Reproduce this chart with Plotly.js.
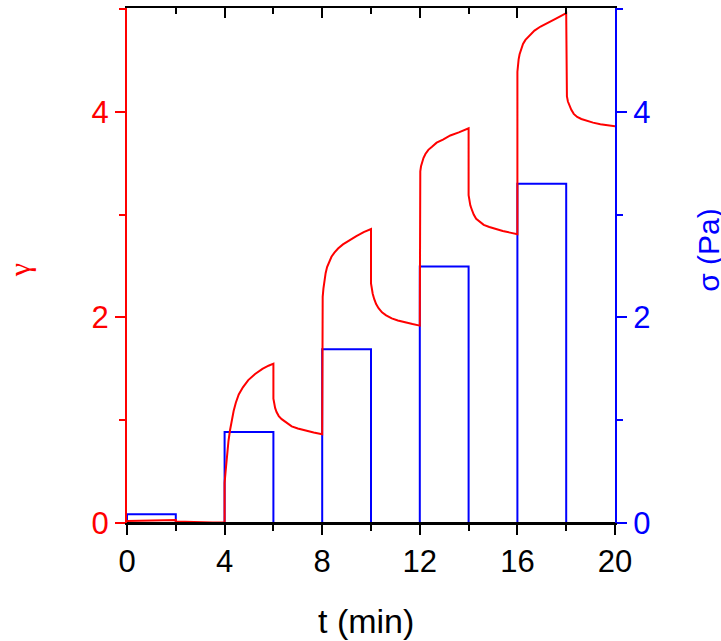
<!DOCTYPE html>
<html>
<head>
<meta charset="utf-8">
<script src="https://cdn.plot.ly/plotly-3.0.1.min.js"></script>
<style>html,body{margin:0;padding:0;background:#fff;}#chart{width:721px;height:641px;}</style>
</head>
<body>
<div id="chart"></div>
<script>
// Strain (gamma) curve
var strainT = [0, 0, 0.5, 1, 1.5, 2, 2, 2.5, 3, 3.5, 4,
  4, 4.04, 4.08, 4.12, 4.16, 4.22, 4.29, 4.37, 4.46, 4.58, 4.75, 4.97, 5.25, 5.55, 5.8, 6,
  6, 6.03, 6.07, 6.13, 6.22, 6.34, 6.5, 6.75, 7.0, 7.3, 7.65, 8,
  8, 8.02, 8.05, 8.09, 8.14, 8.2, 8.28, 8.38, 8.5, 8.65, 8.85, 9.1, 9.4, 9.7, 10,
  10, 10.03, 10.07, 10.13, 10.21, 10.31, 10.45, 10.62, 10.85, 11.1, 11.4, 11.7, 12,
  12, 12.02, 12.05, 12.09, 12.15, 12.23, 12.35, 12.5, 12.69, 12.95, 13.25, 13.6, 14,
  14, 14.03, 14.07, 14.13, 14.21, 14.31, 14.45, 14.62, 14.85, 15.1, 15.4, 15.7, 16,
  16, 16.02, 16.05, 16.09, 16.15, 16.23, 16.33, 16.48, 16.7, 16.95, 17.25, 17.6, 18,
  18, 18.03, 18.07, 18.13, 18.21, 18.31, 18.45, 18.62, 18.85, 19.1, 19.4, 19.7, 20];
var strainGamma = [0, 0.02, 0.022, 0.025, 0.027, 0.028, 0.015, 0.01, 0.007, 0.005, 0.004,
  0.39, 0.5, 0.62, 0.72, 0.8, 0.9, 1.0, 1.09, 1.17, 1.25, 1.32, 1.39, 1.45, 1.5, 1.53, 1.55,
  1.21, 1.16, 1.12, 1.08, 1.04, 1.01, 0.98, 0.94, 0.92, 0.90, 0.88, 0.863,
  2.12, 2.2, 2.28, 2.36, 2.43, 2.49, 2.54, 2.59, 2.63, 2.67, 2.71, 2.75, 2.79, 2.83, 2.86,
  2.33, 2.28, 2.23, 2.18, 2.13, 2.09, 2.05, 2.02, 1.99, 1.97, 1.95, 1.935, 1.92,
  3.37, 3.42, 3.47, 3.51, 3.55, 3.59, 3.63, 3.66, 3.70, 3.73, 3.77, 3.80, 3.84,
  3.19, 3.14, 3.09, 3.05, 3.00, 2.96, 2.93, 2.90, 2.88, 2.86, 2.84, 2.825, 2.81,
  4.39, 4.45, 4.51, 4.56, 4.61, 4.66, 4.70, 4.74, 4.79, 4.83, 4.87, 4.91, 4.96,
  4.20, 4.15, 4.10, 4.06, 4.02, 3.98, 3.95, 3.93, 3.91, 3.895, 3.88, 3.87, 3.86];

// Applied stress steps
var stressT = [0, 0, 2, 4, 6, 8, 10, 12, 14, 16, 18, 20];
var stressPa = [0, 0.085, 0, 0.886, 0, 1.69, 0, 2.495, 0, 3.30, 0, 0];

// Tick labels
var xTicks = [0, 4, 8, 12, 16, 20];
var yTicks = [0, 2, 4];

var RED = '#ff0000', BLUE = '#0000ff';
var FONT = 'Liberation Sans, Arial, sans-serif';

var traces = [
  {x: stressT, y: stressPa, type: 'scatter', mode: 'lines', xaxis: 'x', yaxis: 'y',
   line: {color: BLUE, width: 2, shape: 'hv'}, hoverinfo: 'x+y'},
  {x: strainT, y: strainGamma, type: 'scatter', mode: 'lines', xaxis: 'x2', yaxis: 'y2',
   line: {color: RED, width: 2}, hoverinfo: 'x+y'}
];

var yr = [0, 5.01];
var layout = {
  width: 721, height: 641,
  margin: {l: 127, r: 106, t: 8, b: 118},
  paper_bgcolor: '#fff', plot_bgcolor: '#fff',
  showlegend: false,
  font: {family: FONT, size: 31, color: '#000'},
  xaxis: {
    range: [0, 20], tickmode: 'array', tickvals: xTicks, ticktext: xTicks.map(String),
    ticks: 'outside', ticklen: 10, tickwidth: 2, tickcolor: '#000',
    minor: {dtick: 2, tick0: 0, ticks: 'outside', ticklen: 6, tickwidth: 2, tickcolor: '#000'},
    showline: true, linecolor: '#000', linewidth: 2, showgrid: false, zeroline: false,
    layer: 'above traces',
    tickfont: {family: FONT, size: 31, color: '#000'}, anchor: 'y'
  },
  xaxis2: {
    range: [0, 20], overlaying: 'x', side: 'top', anchor: 'y2',
    tickmode: 'array', tickvals: xTicks, showticklabels: false,
    ticks: 'inside', ticklen: 10, tickwidth: 2, tickcolor: '#000',
    minor: {dtick: 2, tick0: 0, ticks: 'inside', ticklen: 6, tickwidth: 2, tickcolor: '#000'},
    showline: true, linecolor: '#000', linewidth: 2, showgrid: false, zeroline: false
  },
  yaxis: {
    range: yr, side: 'right', anchor: 'x',
    tickmode: 'array', tickvals: yTicks, ticktext: yTicks.map(String),
    ticks: 'outside', ticklen: 10, tickwidth: 2, tickcolor: BLUE,
    minor: {dtick: 1, tick0: 0, ticks: 'outside', ticklen: 6, tickwidth: 2, tickcolor: BLUE},
    showline: true, linecolor: BLUE, linewidth: 2, showgrid: false, zeroline: false,
    tickfont: {family: FONT, size: 31, color: BLUE}
  },
  yaxis2: {
    range: yr, overlaying: 'y', side: 'left', anchor: 'x2',
    tickmode: 'array', tickvals: yTicks, ticktext: yTicks.map(String),
    ticks: 'outside', ticklen: 10, tickwidth: 2, tickcolor: RED,
    minor: {dtick: 1, tick0: 0, ticks: 'outside', ticklen: 6, tickwidth: 2, tickcolor: RED},
    showline: true, linecolor: RED, linewidth: 2, showgrid: false, zeroline: false,
    tickfont: {family: FONT, size: 31, color: RED}
  },
  shapes: [
    {type: 'line', xref: 'paper', yref: 'y', x0: 0, x1: 1, y0: 0, y1: 0,
     line: {color: '#000', width: 2}, layer: 'above'}
  ],
  annotations: [
    {text: 't (min)', xref: 'paper', yref: 'paper', x: 0.49, y: -0.19, xanchor: 'center', yanchor: 'middle',
     showarrow: false, font: {family: FONT, size: 34, color: '#000'}},
    {text: 'γ', xref: 'paper', yref: 'paper', x: -0.22, y: 0.49, xanchor: 'center', yanchor: 'middle',
     textangle: -90, showarrow: false, font: {family: 'Liberation Serif, serif', size: 30, color: RED}},
    {text: 'σ (Pa)', xref: 'paper', yref: 'paper', x: 1.19, y: 0.53, xanchor: 'center', yanchor: 'middle',
     textangle: -90, showarrow: false, font: {family: FONT, size: 30, color: BLUE}}
  ]
};

Plotly.newPlot('chart', traces, layout, {displayModeBar: false, staticPlot: true});
</script>
</body>
</html>
